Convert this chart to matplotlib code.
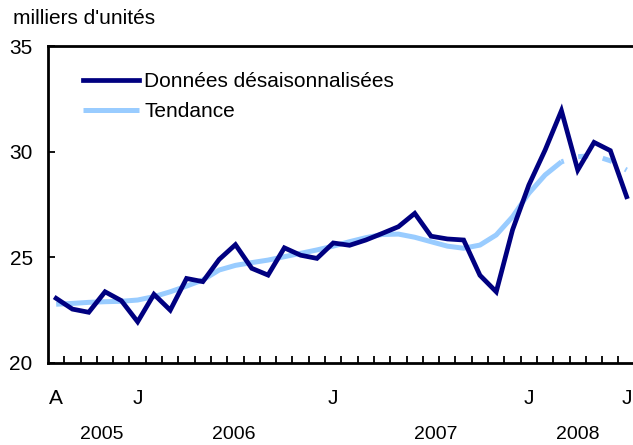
import matplotlib
matplotlib.use('Agg')
import matplotlib.pyplot as plt
from matplotlib.ticker import FixedLocator
from matplotlib.transforms import blended_transform_factory

plt.rcParams['font.family'] = ['Liberation Sans', 'DejaVu Sans']

# monthly, August 2005 to July 2008
months = list(range(36))
donnees = [23.06, 22.55, 22.40, 23.37, 22.95, 21.95, 23.25, 22.50, 24.00, 23.85,
           24.90, 25.60, 24.48, 24.16, 25.45, 25.10, 24.95, 25.68, 25.57, 25.82,
           26.13, 26.45, 27.08, 26.00, 25.87, 25.82, 24.15, 23.37, 26.30, 28.42,
           30.08, 31.94, 29.13, 30.44, 30.05, 27.87]
tendance = [22.78, 22.82, 22.87, 22.90, 22.92, 22.98, 23.14, 23.37, 23.64, 23.93,
            24.40, 24.62, 24.75, 24.87, 25.03, 25.19, 25.35, 25.53, 25.74, 25.93,
            26.08, 26.10, 25.95, 25.74, 25.53, 25.43, 25.58, 26.06, 26.92, 28.03,
            28.90, 29.52, 29.76, 29.82, 29.57, 29.13]
n_solid = 32  # last trend points drawn dashed

tick_pos = [0, 5, 17, 29, 35]
tick_labels = ['A', 'J', 'J', 'J', 'J']
years = ['2005', '2006', '2007', '2008']
year_pos = [2.8, 10.9, 23.3, 32.0]

dark = '#000080'
light = '#99CCFF'
fs = 15

fig = plt.figure(figsize=(6.33, 4.45), dpi=100)
ax = fig.add_axes([48/633, 1 - 363/445, 1 - 48/633, (363 - 46)/445])

ax.plot(months[:n_solid], tendance[:n_solid], color=light, lw=3.6,
        solid_capstyle='butt', label='Tendance', zorder=2)
ax.plot(months[n_solid - 1:], tendance[n_solid - 1:], color=light, lw=3.6,
        linestyle=(1.5, (2.0, 3.0)), dash_capstyle='butt', zorder=2)
ax.plot(months, donnees, color=dark, lw=3.4, solid_joinstyle='miter',
        label='Données désaisonnalisées', zorder=3)

ax.set_xlim(-0.5, 35.39)
ax.set_ylim(20, 35)
ax.set_yticks([20, 25, 30, 35])
ax.tick_params(axis='y', direction='in', length=5, width=1.3, labelsize=fs, pad=11)

ax.xaxis.set_major_locator(FixedLocator(tick_pos))
ax.set_xticklabels(tick_labels)
ax.xaxis.set_minor_locator(FixedLocator([m + 0.5 for m in months[:-1]]))
ax.tick_params(axis='x', which='major', length=0, labelsize=fs, pad=19)
ax.tick_params(axis='x', which='minor', direction='in', length=5, width=1.3)

for s in ['left', 'bottom', 'top']:
    ax.spines[s].set_linewidth(2)
ax.spines['right'].set_visible(False)

tr = blended_transform_factory(ax.transData, ax.transAxes)
for yr, xp in zip(years, year_pos):
    ax.text(xp, -0.226, yr, transform=tr, ha='center', va='center', fontsize=14)

fig.text(13/633, 1 - 18/445, "milliers d'unités", ha='left', va='center', fontsize=fs)

handles, labels = ax.get_legend_handles_labels()
ax.legend(handles[::-1], labels[::-1], loc='upper left', bbox_to_anchor=(0.045, 0.944),
          frameon=False, fontsize=fs, handlelength=2.7, handletextpad=0.25,
          labelspacing=0.54, borderaxespad=0)

fig.savefig('out.png', dpi=100)
